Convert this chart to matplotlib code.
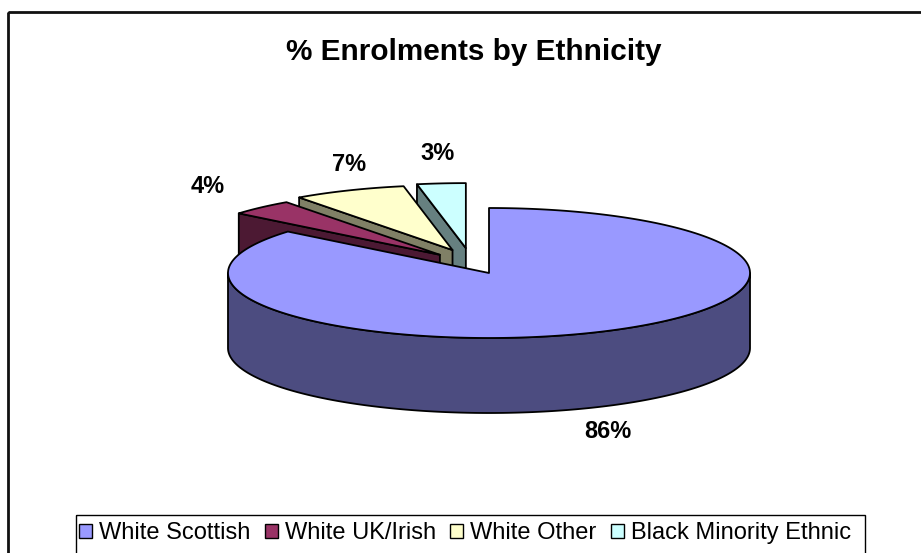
import numpy as np
import matplotlib
matplotlib.use('Agg')
import matplotlib.pyplot as plt
from matplotlib.patches import Polygon, Rectangle, Patch

categories = ['White Scottish', 'White UK/Irish', 'White Other', 'Black Minority Ethnic']
values = [86, 4, 7, 3]
exploded = [False, True, True, True]
top_colors = ['#9999FF', '#993366', '#FFFFCC', '#CCFFFF']
side_colors = ['#4C4C80', '#4C1933', '#808066', '#668080']
title = '% Enrolments by Ethnicity'

# ---- layout / style (pixels) ----
W, H = 921, 553
CX, CY = 489, 273          # centre of top ellipse
RA, RB = 261, 65           # ellipse semi-axes
DEPTH = 75                 # pie thickness
EXP_X, EXP_Y, EXP_SHIFT = 44, 25, -19
label_nudge = [(8, 25), (-54, -21), (0, -26), (-4, -30)]
LW = 1.3
FONT = 'Liberation Sans'

plt.rcParams['font.family'] = [FONT, 'DejaVu Sans']

fig = plt.figure(figsize=(W / 100, H / 100), dpi=100)
ax = fig.add_axes([0, 0, 1, 1])
ax.set_xlim(0, W)
ax.set_ylim(H, 0)
ax.axis('off')

# outer chart frame (cut by image edge at right/bottom)
ax.add_patch(Rectangle((8, 12), W, H, fill=False, ec='#111111', lw=2.0, zorder=0))

total = float(sum(values))
fracs = [v / total for v in values]
bounds = np.concatenate([[0], np.cumsum(fracs) * 360.0])


def pt(th, ox, oy, dz=0.0):
    t = np.radians(th)
    return (CX + ox + RA * np.sin(t), CY + oy - RB * np.cos(t) + dz)


slices = []
for i, v in enumerate(values):
    t1, t2 = bounds[i], bounds[i + 1]
    mid = 0.5 * (t1 + t2)
    if exploded[i]:
        ox = EXP_SHIFT + EXP_X * np.sin(np.radians(mid))
        oy = -EXP_Y * np.cos(np.radians(mid))
    else:
        ox = oy = 0.0
    slices.append((i, t1, t2, mid, ox, oy))

# painter's order: back (cos(mid) large) to front
order = sorted(slices, key=lambda s: -np.cos(np.radians(s[3])))
z = 1
for (i, t1, t2, mid, ox, oy) in order:
    apex = (CX + ox, CY + oy)
    apex_b = (CX + ox, CY + oy + DEPTH)
    kw = dict(ec='black', lw=LW, joinstyle='round')
    # radial face at start angle
    if np.sin(np.radians(t1)) < -1e-6:
        p1 = pt(t1, ox, oy)
        p1b = pt(t1, ox, oy, DEPTH)
        ax.add_patch(Polygon([apex, p1, p1b, apex_b], closed=True,
                             fc=side_colors[i], zorder=z, **kw))
        z += 1
    # radial face at end angle
    if np.sin(np.radians(t2)) > 1e-6:
        p2 = pt(t2, ox, oy)
        p2b = pt(t2, ox, oy, DEPTH)
        ax.add_patch(Polygon([apex, p2, p2b, apex_b], closed=True,
                             fc=side_colors[i], zorder=z, **kw))
        z += 1
    # outer rim side (front half only)
    a1, a2 = max(t1, 90.0), min(t2, 270.0)
    if a2 > a1:
        ths = np.linspace(a1, a2, 200)
        top = [pt(t, ox, oy) for t in ths]
        bot = [pt(t, ox, oy, DEPTH) for t in ths[::-1]]
        ax.add_patch(Polygon(top + bot, closed=True, fc=side_colors[i],
                             zorder=z, **kw))
        z += 1
    # top face
    ths = np.linspace(t1, t2, max(int((t2 - t1) * 2), 8))
    ax.add_patch(Polygon([apex] + [pt(t, ox, oy) for t in ths], closed=True,
                         fc=top_colors[i], zorder=z, **kw))
    z += 1

# data labels
for (i, t1, t2, mid, ox, oy) in slices:
    front = np.cos(np.radians(mid)) < 0
    x, y = pt(mid, ox, oy, DEPTH if front else 0.0)
    dx, dy = label_nudge[i]
    ax.text(x + dx, y + dy, f'{round(fracs[i] * 100):.0f}%', ha='center',
            va='center', fontsize=17, fontweight='bold', zorder=50)

# title
ax.text(474, 52, title, ha='center', va='center', fontsize=21.4,
        fontweight='bold', zorder=50)

# legend
ax.add_patch(Rectangle((76, 515), 789, 60, fill=False, ec='black', lw=1.0, zorder=40))
handles = [Patch(fc=c, ec='black', lw=1.0) for c in top_colors]
leg = fig.legend(handles, categories, loc='center', bbox_to_anchor=(465 / W, 1 - 533 / H),
                 ncol=4, frameon=False, fontsize=17, handlelength=0.55,
                 handleheight=0.55, handletextpad=0.3, columnspacing=0.6,
                 borderpad=0, borderaxespad=0)

fig.savefig('out.png', dpi=100)
